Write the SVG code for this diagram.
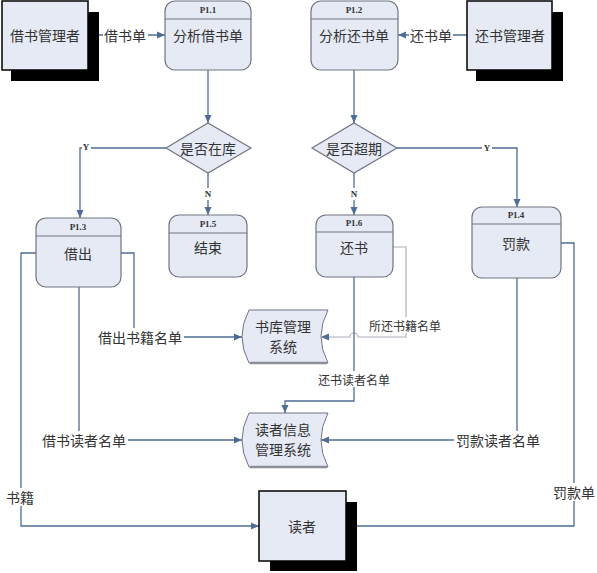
<svg xmlns="http://www.w3.org/2000/svg" width="597" height="573" viewBox="0 0 597 573">
<defs>
<marker id="ah" viewBox="0 0 8 8" refX="8" refY="4" markerWidth="8" markerHeight="8" markerUnits="userSpaceOnUse" orient="auto">
<path d="M0,0.5 L8,4 L0,7.5 Z" fill="#4f6d94"/>
</marker>
<style>
.ent{fill:#e6eaf5;stroke:#000;stroke-width:1.5}
.sh{fill:#000}
.proc{fill:#e6eaf5;stroke:#6f7580;stroke-width:1.2}
.div{stroke:#6f7580;stroke-width:1}
.dia{fill:#e6eaf5;stroke:#6f7580;stroke-width:1.2}
.store{fill:#e6eaf5;stroke:#6f7580;stroke-width:1}
.sbot{stroke:#8a8f98;stroke-width:2.5;fill:none}
.t{font-family:"Noto Sans CJK SC","Noto Sans",sans-serif;font-size:14px;fill:#333;text-anchor:middle;dominant-baseline:central}
.s12{font-size:12px}
.pid{font-family:"Liberation Serif",serif;font-size:9px;font-weight:bold;fill:#333;text-anchor:middle;dominant-baseline:central}
.c{fill:none;stroke:#4f6d94;stroke-width:1.3}
.cl{fill:none;stroke:#a8afbb;stroke-width:1.1}
.bg{fill:#fff}
</style>
</defs>
<rect width="597" height="573" fill="#fff"/>

<g id="connectors">
<path class="c" d="M88,35 H165" marker-end="url(#ah)"/>
<path class="c" d="M467,35 H398" marker-end="url(#ah)"/>
<path class="c" d="M208,70 V123" marker-end="url(#ah)"/>
<path class="c" d="M354,70 V123" marker-end="url(#ah)"/>
<path class="c" d="M166,148 H80 V218" marker-end="url(#ah)"/>
<path class="c" d="M208,173 V215" marker-end="url(#ah)"/>
<path class="c" d="M397,148 H517 V207" marker-end="url(#ah)"/>
<path class="c" d="M354,173 V215" marker-end="url(#ah)"/>
<path class="c" d="M36,253 H21 V526 H259" marker-end="url(#ah)"/>
<path class="c" d="M79,287 V440 H242" marker-end="url(#ah)"/>
<path class="c" d="M121,253 H134 V337 H242" marker-end="url(#ah)"/>
<path class="cl" d="M393,247 H406 V337 H358 A4,4 0 0 0 350,337 H321" marker-end="url(#ah)"/>
<path class="c" d="M354,277 V401 H285 V413" marker-end="url(#ah)"/>
<path class="c" d="M517,278 V440 H321" marker-end="url(#ah)"/>
<path class="c" d="M561,243 H574 V526 H346" marker-end="url(#ah)"/>
<g id="labels">
<rect class="bg" x="103" y="27" width="45" height="16"/>
<text class="t" x="125" y="35">借书单</text>
<rect class="bg" x="409" y="27" width="44" height="16"/>
<text class="t" x="431" y="35">还书单</text>
<rect class="bg" x="82" y="141" width="9" height="12"/>
<text class="pid" x="86" y="147" font-weight="normal">Y</text>
<rect class="bg" x="482" y="142" width="10" height="12"/>
<text class="pid" x="487" y="148" font-weight="normal">Y</text>
<rect class="bg" x="203" y="188" width="10" height="12"/>
<text class="pid" x="208" y="194" font-weight="normal">N</text>
<rect class="bg" x="349" y="188" width="10" height="12"/>
<text class="pid" x="354" y="194" font-weight="normal">N</text>
<rect class="bg" x="6" y="488" width="29" height="18"/>
<text class="t" x="20" y="497">书籍</text>
<rect class="bg" x="97" y="328" width="87" height="18"/>
<text class="t" x="140" y="337">借出书籍名单</text>
<rect class="bg" x="40" y="431" width="88" height="18"/>
<text class="t" x="84" y="440">借书读者名单</text>
<rect class="bg" x="367" y="317" width="76" height="16"/>
<text class="t s12" x="405" y="325">所还书籍名单</text>
<rect class="bg" x="317" y="371" width="74" height="16"/>
<text class="t s12" x="354" y="379">还书读者名单</text>
<rect class="bg" x="454" y="431" width="89" height="18"/>
<text class="t" x="498" y="440">罚款读者名单</text>
<rect class="bg" x="552" y="483" width="44" height="18"/>
<text class="t" x="574" y="492">罚款单</text>
</g>
</g>

<g id="e-jieshu">
<rect class="sh" x="11" y="12" width="88" height="69"/>
<rect class="ent" x="2" y="1" width="86" height="69"/>
<text class="t" x="45" y="35">借书管理者</text>
</g>
<g id="e-huanshu">
<rect class="sh" x="476" y="12" width="87" height="69"/>
<rect class="ent" x="467" y="1" width="85" height="69"/>
<text class="t" x="510" y="35">还书管理者</text>
</g>
<g id="e-duzhe">
<rect class="sh" x="270" y="502" width="87" height="69"/>
<rect class="ent" x="259" y="491" width="87" height="70"/>
<text class="t" x="302" y="526">读者</text>
</g>

<g id="p11">
<rect class="proc" x="165" y="1" width="86" height="69" rx="10"/>
<line class="div" x1="165" y1="19" x2="251" y2="19"/>
<text class="pid" x="208" y="10">P1.1</text>
<text class="t" x="208" y="35">分析借书单</text>
</g>
<g id="p12">
<rect class="proc" x="311" y="1" width="87" height="69" rx="10"/>
<line class="div" x1="311" y1="19" x2="398" y2="19"/>
<text class="pid" x="354" y="10">P1.2</text>
<text class="t" x="354" y="35">分析还书单</text>
</g>
<g id="d-zaiku">
<polygon class="dia" points="208,123 251,148 208,173 166,148"/>
<text class="t" x="208" y="148">是否在库</text>
</g>
<g id="d-chaoqi">
<polygon class="dia" points="354,123 397,148 354,173 312,148"/>
<text class="t" x="354" y="148">是否超期</text>
</g>
<g id="p13">
<rect class="proc" x="36" y="218" width="85" height="69" rx="10"/>
<line class="div" x1="36" y1="236" x2="121" y2="236"/>
<text class="pid" x="78" y="227">P1.3</text>
<text class="t" x="78" y="253">借出</text>
</g>
<g id="p15">
<rect class="proc" x="169" y="215" width="78" height="62" rx="10"/>
<line class="div" x1="169" y1="233" x2="247" y2="233"/>
<text class="pid" x="208" y="224">P1.5</text>
<text class="t" x="208" y="247">结束</text>
</g>
<g id="p16">
<rect class="proc" x="316" y="215" width="77" height="62" rx="10"/>
<line class="div" x1="316" y1="232" x2="393" y2="232"/>
<text class="pid" x="354" y="223">P1.6</text>
<text class="t" x="354" y="247">还书</text>
</g>
<g id="p14">
<rect class="proc" x="472" y="207" width="89" height="71" rx="10"/>
<line class="div" x1="472" y1="224" x2="561" y2="224"/>
<text class="pid" x="516" y="215">P1.4</text>
<text class="t" x="516" y="243">罚款</text>
</g>
<g id="s-shuku">
<path class="store" d="M249,310 H328 Q314,336.5 328,363 H249 Q235,336.5 249,310 Z"/>
<path class="sbot" d="M250,363 H327"/>
<text class="t" x="283" y="326">书库管理</text>
<text class="t" x="283" y="346">系统</text>
</g>
<g id="s-duzhe">
<path class="store" d="M249,413 H328 Q314,440 328,467 H249 Q235,440 249,413 Z"/>
<path class="sbot" d="M250,467 H327"/>
<text class="t" x="283" y="429">读者信息</text>
<text class="t" x="283" y="449">管理系统</text>
</g>
</svg>
